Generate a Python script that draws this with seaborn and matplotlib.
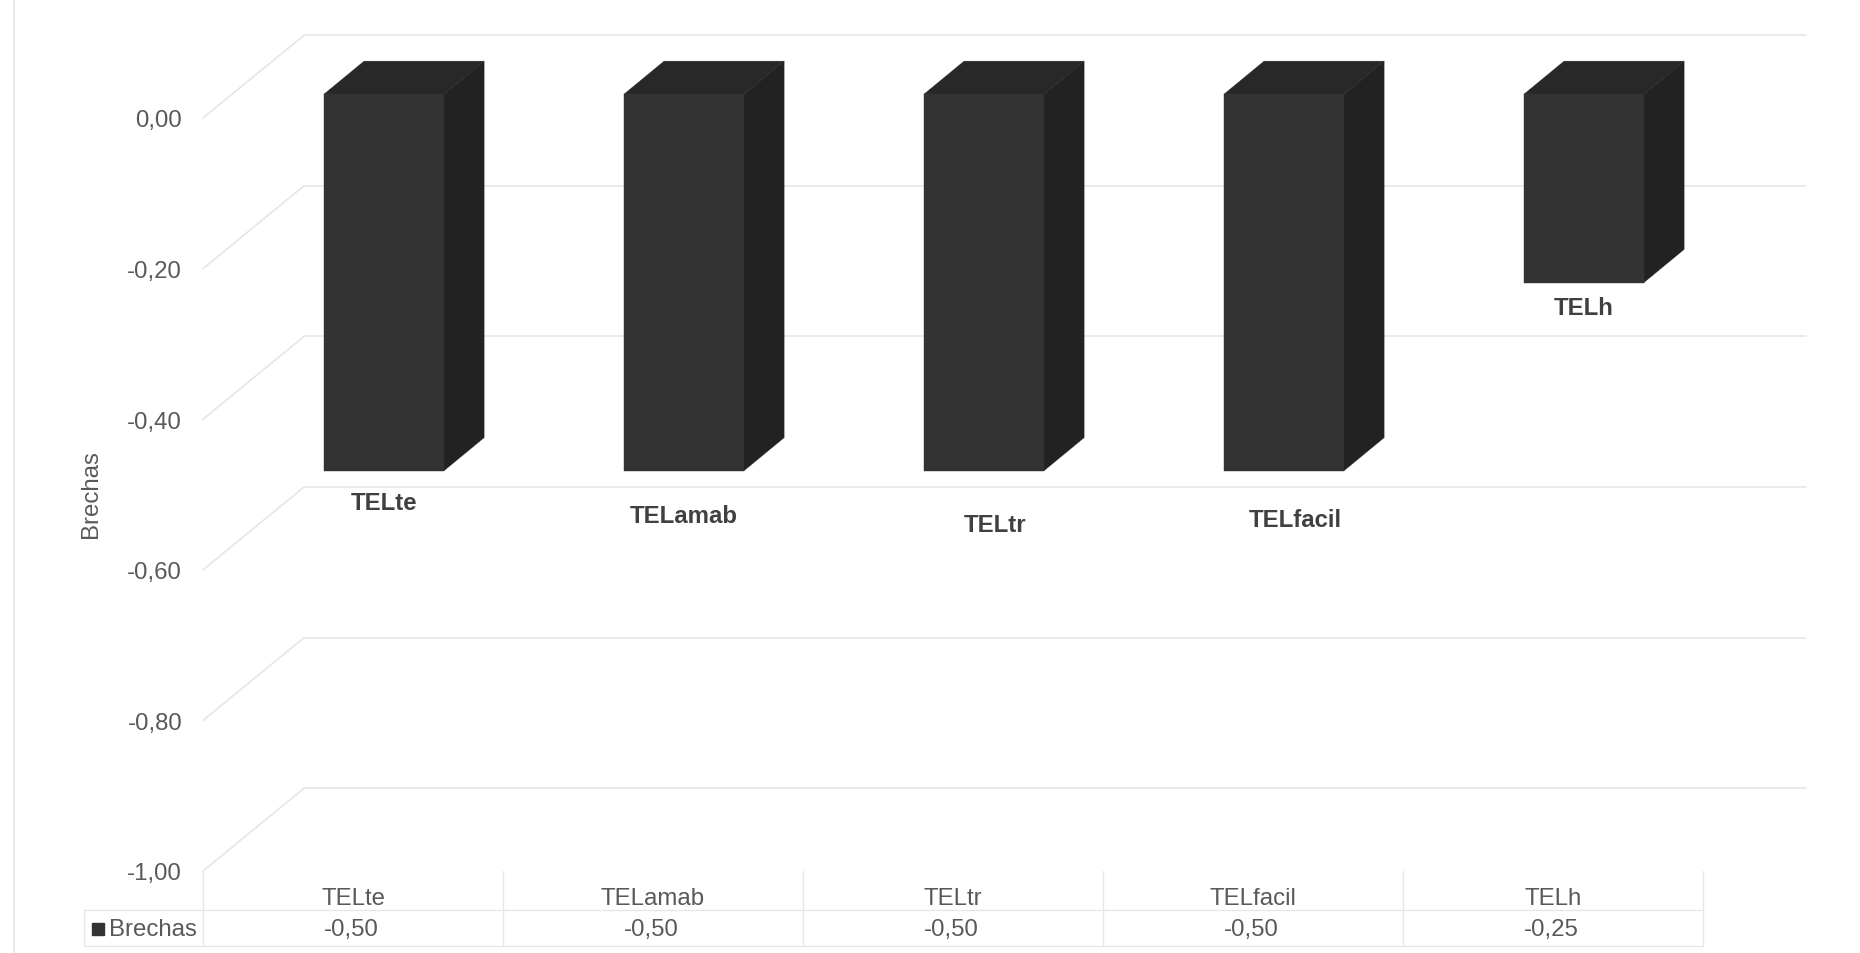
import matplotlib
matplotlib.use("Agg")
import matplotlib.pyplot as plt
from matplotlib.patches import Polygon
import pandas as pd
import seaborn as sns

categories = ["TELte", "TELamab", "TELtr", "TELfacil", "TELh"]
brechas = [-0.50, -0.50, -0.50, -0.50, -0.25]
y_ticks = [0.0, -0.2, -0.4, -0.6, -0.8, -1.0]
series_name = "Brechas"

# Offsets of the bold bar captions from the bottom centre of each bar, in points
caption_dx = [0, 0, 8, 8, 0]
caption_dy = [-23, -32, -39, -35, -18]

GREY_TEXT = "#595959"
GRID = "#e6e6e6"
FRONT, SIDE, TOP = "#333333", "#222222", "#282828"
FONT_SIZE = 17.3
GRID_LW = 1.2

# Oblique projection, in data units per unit of depth
WALL_DX, WALL_DY = 0.337, 0.110      # floor/wall depth
BAR_SHIFT_X, BAR_SHIFT_Y = 0.103, 0.0315  # bar front relative to the axis plane
BAR_DX, BAR_DY = 0.134, 0.044        # bar depth


def fmt(v):
    return f"{v:.2f}".replace(".", ",")


sns.set_theme(style="white")
plt.rcParams["font.family"] = ["Liberation Sans", "DejaVu Sans"]

fig = plt.figure(figsize=(18.6, 9.54), dpi=100, facecolor="white")
ax = fig.add_axes([203 / 1860, 1 - 872 / 954, 1500 / 1860, 753 / 954])

df = pd.DataFrame({"categoria": categories, series_name: brechas})
sns.barplot(data=df, x="categoria", y=series_name, color=FRONT, saturation=1,
            width=0.4, ax=ax, zorder=4, edgecolor=FRONT, linewidth=0.3)

ax.set_xlim(-0.5, 4.5)
ax.set_ylim(-1.0, 0.0)
sns.despine(ax=ax, left=True, bottom=True, top=True, right=True)

# Back wall gridlines and the diagonals running along the side wall
for v in y_ticks:
    ax.plot([-0.5 + WALL_DX, 4.5 + WALL_DX + 0.006], [v + WALL_DY, v + WALL_DY],
            color=GRID, lw=GRID_LW, clip_on=False, zorder=1)
    ax.plot([-0.5, -0.5 + WALL_DX], [v, v + WALL_DY],
            color=GRID, lw=GRID_LW, clip_on=False, zorder=1)

# Turn the flat bars into boxes: shift the front face, add side and top faces
for bar, name, value, dx, dy in zip(ax.patches, categories, brechas, caption_dx, caption_dy):
    x0 = bar.get_x() + BAR_SHIFT_X
    x1 = x0 + bar.get_width()
    top = BAR_SHIFT_Y
    bottom = value + BAR_SHIFT_Y
    bar.set_x(x0)
    bar.set_y(top)
    bar.set_height(value)
    bar.set_clip_on(False)
    ax.add_patch(Polygon([(x1, top), (x1 + BAR_DX, top + BAR_DY),
                          (x1 + BAR_DX, bottom + BAR_DY), (x1, bottom)],
                         fc=SIDE, ec=SIDE, lw=0.3, clip_on=False, zorder=3))
    ax.add_patch(Polygon([(x0, top), (x0 + BAR_DX, top + BAR_DY),
                          (x1 + BAR_DX, top + BAR_DY), (x1, top)],
                         fc=TOP, ec=TOP, lw=0.3, clip_on=False, zorder=3))
    ax.annotate(name, xy=((x0 + x1) / 2, bottom), xytext=(dx, dy),
                textcoords="offset points", ha="center", va="center",
                fontsize=FONT_SIZE, fontweight="bold", color="#404040",
                annotation_clip=False, zorder=5)

ax.set_yticks(y_ticks, [fmt(v) for v in y_ticks])
ax.set_xticks(range(len(categories)), categories)
ax.tick_params(axis="y", length=0, pad=15, labelsize=FONT_SIZE, labelcolor=GREY_TEXT)
ax.tick_params(axis="x", length=0, pad=11.5, labelsize=FONT_SIZE, labelcolor=GREY_TEXT)
ax.set_xlabel("")
ax.set_ylabel(series_name, fontsize=FONT_SIZE, color=GREY_TEXT)
ax.yaxis.set_label_coords(-0.0673, 0.5025)
ax.grid(False)
ax.patch.set_visible(False)

# Data table under the plot: x in category units, y as a fraction of the axes height
trans = ax.get_xaxis_transform()
ROW_MID, ROW_BOTTOM, VALUE_Y = -39 / 753, -75 / 753, -58 / 753
TABLE_LEFT = -0.897
table_line = dict(color=GRID, lw=0.9, transform=trans, clip_on=False, zorder=1)
ax.plot([TABLE_LEFT, 4.5], [ROW_MID, ROW_MID], **table_line)
ax.plot([TABLE_LEFT, 4.5], [ROW_BOTTOM, ROW_BOTTOM], **table_line)
ax.plot([TABLE_LEFT, TABLE_LEFT], [ROW_MID, ROW_BOTTOM], **table_line)
for i in range(len(categories) + 1):
    ax.plot([i - 0.5, i - 0.5], [0, ROW_BOTTOM], **table_line)
for i, value in enumerate(brechas):
    ax.text(i - 0.004, VALUE_Y, fmt(value), transform=trans, ha="center", va="center",
            fontsize=FONT_SIZE, color=GREY_TEXT)
ax.plot([-0.85], [VALUE_Y], marker="s", ms=9, color=FRONT, transform=trans,
        clip_on=False, ls="none")
ax.text(-0.813, VALUE_Y, series_name, transform=trans, ha="left", va="center",
        fontsize=FONT_SIZE, color=GREY_TEXT)

# Thin frame line along the left side of the chart area
fig.add_artist(plt.Line2D([14 / 1860, 14 / 1860], [0, 1], color="#e6e6e6", lw=1.2))

fig.savefig("out.png", dpi=100, facecolor="white")
